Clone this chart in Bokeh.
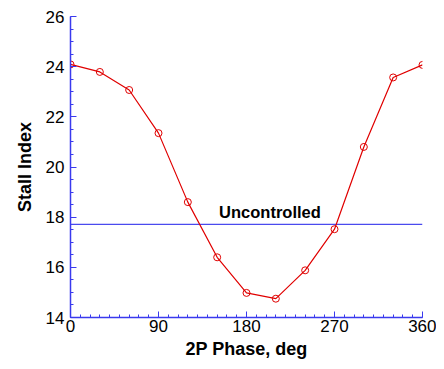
from bokeh.plotting import figure
from bokeh.models import Range1d, FixedTicker, Label
from bokeh.embed import file_html
from bokeh.resources import INLINE

phase = [0, 30, 60, 90, 120, 150, 180, 210, 240, 270, 300, 330, 360]
stall = [24.09, 23.79, 23.07, 21.35, 18.60, 16.40, 14.98, 14.75, 15.88, 17.52, 20.80, 23.57, 24.07]
uncontrolled = 17.71
x_ticks = [0, 90, 180, 270, 360]
y_ticks = [14, 16, 18, 20, 22, 24, 26]

BLUE = "#3a3aee"
RED = "#e00000"

p = figure(width=436, height=361, output_backend="svg", toolbar_location=None,
           x_range=Range1d(0, 360), y_range=Range1d(14, 26),
           min_border_left=70, min_border_right=14, min_border_top=16, min_border_bottom=44)
p.outline_line_color = None
p.grid.visible = False
p.background_fill_color = "white"

p.line([0, 360], [uncontrolled, uncontrolled], line_color="#4a4aee", line_width=1.2)
p.line(phase, stall, line_color=RED, line_width=1.2)
p.scatter(phase, stall, size=7, marker="circle", fill_color=None, line_color=RED, line_width=1)

p.add_layout(Label(x=204, y=18.2, text="Uncontrolled", text_align="center", text_baseline="middle",
                   text_font="Liberation Sans", text_font_style="bold", text_font_size="16.5px",
                   text_color="black"))

for ax in (p.xaxis[0], p.yaxis[0]):
    ax.axis_line_color = BLUE
    ax.axis_line_width = 1.5
    ax.major_tick_line_color = BLUE
    ax.minor_tick_line_color = BLUE
    ax.major_tick_in = 6
    ax.major_tick_out = 0
    ax.minor_tick_in = 3
    ax.minor_tick_out = 0
    ax.major_label_text_font = "Liberation Sans"
    ax.major_label_text_font_size = "17px"
    ax.major_label_text_color = "black"
    ax.axis_label_text_font = "Liberation Sans"
    ax.axis_label_text_font_size = "18px"
    ax.axis_label_text_font_style = "bold"
    ax.axis_label_text_color = "black"

p.xaxis.ticker = FixedTicker(ticks=x_ticks, minor_ticks=list(range(0, 361, 10)))
p.yaxis.ticker = FixedTicker(ticks=y_ticks, minor_ticks=[14 + 0.5 * i for i in range(25)])
p.xaxis.axis_label = "2P Phase, deg"
p.yaxis.axis_label = "Stall Index"
p.xaxis.major_label_standoff = 2
p.yaxis.major_label_standoff = 6
p.xaxis.axis_label_standoff = 4
p.yaxis.axis_label_standoff = 8

open("out.html", "w").write(file_html(p, INLINE))
